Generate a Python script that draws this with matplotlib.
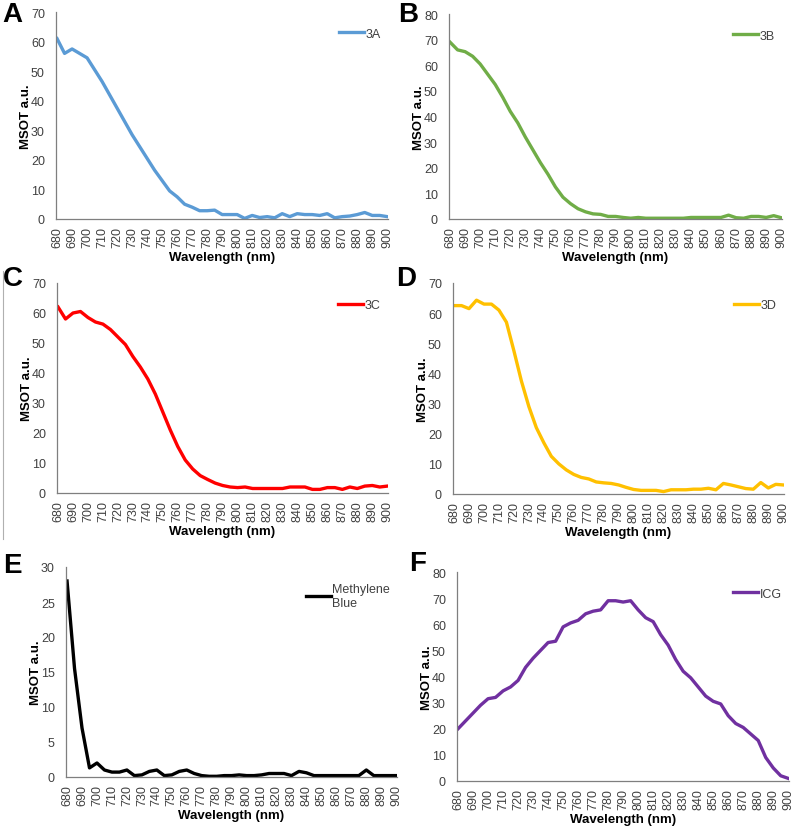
import matplotlib
matplotlib.use("Agg")
import matplotlib.pyplot as plt
import numpy as np
from matplotlib.lines import Line2D

plt.rcParams['font.family'] = ['Liberation Sans', 'DejaVu Sans']

# wavelengths (nm), 5 nm steps
wavelength = np.arange(680, 901, 5)
tick_labels = [str(w) for w in range(680, 901, 10)]

mb_3a = [61, 56, 57.5, 56, 54.5, 50.5, 46.5, 42, 37.5, 33, 28.5, 24.5, 20.5, 16.5, 13,
         9.5, 7.5, 5, 4, 2.8, 2.8, 3, 1.5, 1.5, 1.5, 0.2, 1.2, 0.5, 0.8, 0.4, 1.8, 0.8,
         1.8, 1.5, 1.5, 1.2, 1.8, 0.4, 0.8, 1.0, 1.5, 2.2, 1.2, 1.2, 0.8]
mb_3b = [69, 66, 65.3, 63.5, 60.5, 56.5, 52.5, 47.5, 42, 37.5, 32, 27, 22, 17.5, 12.5,
         8.5, 6, 4, 2.8, 2, 1.8, 1, 1, 0.6, 0.3, 0.6, 0.3, 0.3, 0.3, 0.3, 0.3, 0.3,
         0.6, 0.6, 0.6, 0.6, 0.6, 1.5, 0.5, 0.3, 1, 1, 0.6, 1.3, 0.5]
mb_3c = [62, 58, 60, 60.5, 58.5, 57, 56.3, 54.5, 52, 49.5, 45.5, 42, 38, 33, 27,
         21, 15.5, 11, 8, 5.8, 4.5, 3.3, 2.5, 2, 1.8, 2, 1.5, 1.5, 1.5, 1.5, 1.5, 2,
         2, 2, 1.2, 1.2, 1.8, 1.8, 1.2, 2, 1.5, 2.3, 2.5, 2, 2.3]
mb_3d = [62.5, 62.5, 61.5, 64.3, 63, 63, 61, 57, 47.5, 37.5, 29, 22, 17, 12.5, 10,
         8, 6.5, 5.5, 5, 4, 3.7, 3.5, 3, 2.2, 1.5, 1.2, 1.2, 1.2, 0.8, 1.4, 1.4, 1.4,
         1.6, 1.6, 1.9, 1.4, 3.5, 3, 2.4, 1.8, 1.6, 3.8, 2, 3.2, 3]
methylene_blue = [28, 15.5, 7, 1.3, 2, 1, 0.7, 0.7, 1, 0.2, 0.3, 0.8, 1, 0.2, 0.3,
                  0.8, 1, 0.5, 0.2, 0.1, 0.1, 0.2, 0.2, 0.3, 0.2, 0.2, 0.3, 0.5, 0.5,
                  0.5, 0.2, 0.8, 0.6, 0.2, 0.2, 0.2, 0.2, 0.2, 0.2, 0.2, 1, 0.2, 0.2,
                  0.2, 0.2]
icg = [20, 23, 26, 29, 31.5, 32, 34.5, 36, 38.5, 43.5, 47, 50, 53, 53.5, 59, 60.5,
       61.5, 64, 65, 65.5, 69, 69, 68.5, 69, 65.5, 62.5, 61, 56, 52, 46.5, 42, 39.5,
       36, 32.5, 30.5, 29.5, 25, 22, 20.5, 18, 15.5, 9, 5, 2, 1]

W, H = 793, 829
fig = plt.figure(figsize=(W / 100, H / 100), dpi=100)

# (letter, series, label, colour, ymax, ystep, axes box in pixels x0, x1, ytop, ybottom, letter pos)
panels = [
    ("A", mb_3a, "3A", "#5B9BD5", 70, 10, (56, 388, 13, 220), (2, 2)),
    ("B", mb_3b, "3B", "#70AD47", 80, 10, (449, 782, 15, 220), (398, 2)),
    ("C", mb_3c, "3C", "#FF0000", 70, 10, (57, 388, 284, 494), (3, 266)),
    ("D", mb_3d, "3D", "#FFC000", 70, 10, (453, 784, 284, 495), (396, 266)),
    ("E", methylene_blue, "Methylene\nBlue", "#000000", 30, 5, (66, 397, 568, 778), (3, 553)),
    ("F", icg, "ICG", "#7030A0", 80, 10, (457, 789, 573, 782), (409, 551)),
]

for letter, vals, label, color, ymax, ystep, box, lpos in panels:
    x0, x1, yt, yb = box
    ax = fig.add_axes([x0 / W, 1 - yb / H, (x1 - x0) / W, (yb - yt) / H])
    ax.plot(wavelength, vals, color=color, lw=2.4, solid_joinstyle='round')
    ax.set_xlim(679.3, 900.5)
    ax.set_ylim(0, ymax)
    ax.set_yticks(np.arange(0, ymax + 1, ystep))
    ax.set_xticks(range(680, 901, 10))
    ax.set_xticklabels(tick_labels, rotation=90)
    ax.tick_params(length=0, labelsize=9, colors="#404040")
    ax.tick_params(axis="y", pad=8)
    ax.tick_params(axis="x", pad=5)
    for s in ["top", "right"]:
        ax.spines[s].set_visible(False)
    for s in ["left", "bottom"]:
        ax.spines[s].set_color("#7f7f7f")
        ax.spines[s].set_linewidth(0.9)
    ax.set_xlabel("Wavelength (nm)", fontsize=9.5, fontweight="bold", labelpad=3)
    ax.set_ylabel("MSOT a.u.", fontsize=9.5, fontweight="bold", labelpad=-1)
    handle = Line2D([], [], color=color, lw=2.4)
    leg = ax.legend([handle], [label], loc="upper right", frameon=False,
                    fontsize=9, handlelength=2.0, handletextpad=0.1,
                    borderaxespad=0.2, bbox_to_anchor=(1.0, 0.96))
    for t in leg.get_texts():
        t.set_color("#404040")
    fig.text(lpos[0] / W, 1 - lpos[1] / H, letter, fontsize=20, fontweight="bold",
             ha="left", va="top")

# thin grey frame edge at the left of panel C
fig.add_artist(Line2D([2.5 / W, 2.5 / W], [1 - 272 / H, 1 - 540 / H],
                      color="#b0b0b0", lw=0.8))

fig.savefig("out.png", dpi=100)
